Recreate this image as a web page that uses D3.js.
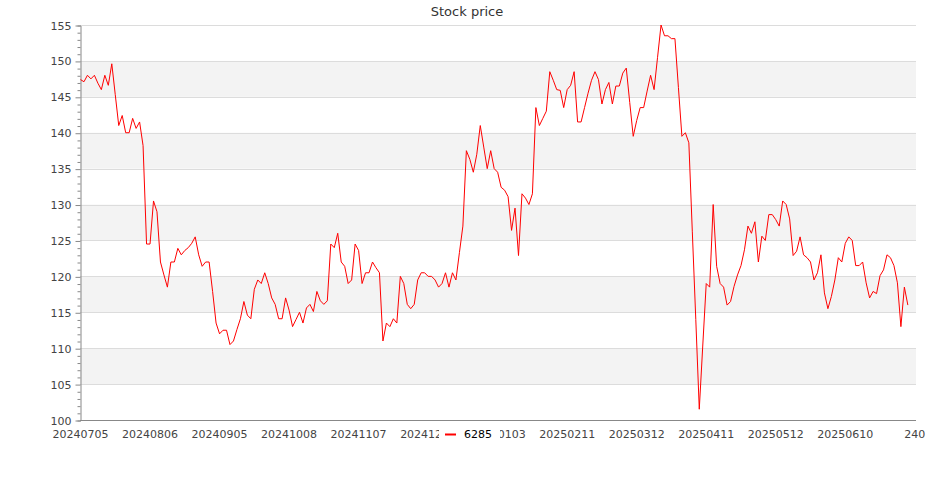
<!DOCTYPE html>
<html>
<head>
<meta charset="utf-8">
<script src="https://cdn.jsdelivr.net/npm/d3@7"></script>
<style>
  body { margin: 0; background: #fff; }
  text { font-family: "DejaVu Sans", sans-serif; }
</style>
</head>
<body>
<script>
// metrics
const width = 935, height = 500;
const plotLeft = 80, plotRight = 916, plotTop = 25, plotBottom = 420;

// data
const seriesName = '6285';
const prices = [
  147.4, 147.1, 148.0, 147.5, 148.0, 146.9, 146.0, 148.0, 146.6, 149.6,
  145.3, 141.0, 142.4, 140.0, 140.0, 142.0, 140.6, 141.5, 138.2, 124.5,
  124.5, 130.5, 129.0, 122.0, 120.2, 118.5, 122.0, 122.0, 123.9, 123.0,
  123.6, 124.0, 124.6, 125.5, 123.0, 121.4, 122.0, 122.0, 117.9, 113.5,
  112.0, 112.5, 112.5, 110.5, 111.0, 112.6, 114.1, 116.5, 114.6, 114.1,
  118.2, 119.5, 119.0, 120.5, 119.0, 117.0, 116.1, 114.1, 114.1, 117.0,
  115.3, 113.0, 114.0, 115.0, 113.5, 115.6, 116.1, 115.1, 117.9, 116.6,
  116.1, 116.6, 124.5, 124.0, 126.0, 122.0, 121.4, 119.0, 119.5, 124.5,
  123.6, 119.0, 120.5, 120.5, 122.0, 121.2, 120.5, 111.0, 113.5, 113.0,
  114.1, 113.5, 120.0, 119.0, 116.1, 115.5, 116.1, 119.5, 120.5, 120.5,
  120.0, 120.0, 119.5, 118.5, 119.0, 120.5, 118.5, 120.5, 119.5, 123.3,
  127.0, 137.5, 136.3, 134.5, 137.0, 141.0, 138.0, 135.0, 137.5, 135.0,
  134.5, 132.4, 132.0, 131.1, 126.4, 129.5, 122.9, 131.5, 130.9, 130.0,
  131.5, 143.5, 141.0, 142.0, 143.0, 148.5, 147.3, 146.0, 145.9, 143.5,
  146.0, 146.6, 148.5, 141.5, 141.5, 143.5, 145.5, 147.3, 148.5, 147.4,
  144.0, 146.0, 147.0, 144.0, 146.5, 146.5, 148.3, 149.0, 144.2, 139.5,
  141.7, 143.5, 143.5, 145.8, 148.0, 146.0, 150.5, 155.0, 153.5, 153.5,
  153.1, 153.1, 146.3, 139.5, 140.0, 138.6, 126.2, 114.0, 101.5, 110.3,
  119.0, 118.5, 130.0, 121.4, 119.0, 118.5, 116.0, 116.5, 118.6, 120.2,
  121.5, 123.7, 127.0, 126.0, 127.6, 122.0, 125.6, 125.0, 128.6, 128.6,
  127.9, 127.0, 130.5, 130.0, 128.0, 122.9, 123.5, 125.5, 123.0, 122.6,
  122.0, 119.5, 120.5, 123.0, 117.7, 115.5, 117.2, 119.5, 122.6, 122.0,
  124.6, 125.5, 125.0, 121.5, 121.5, 122.0, 119.1, 117.0, 117.9, 117.6,
  120.1, 120.9, 123.0, 122.6, 121.5, 119.1, 113.0, 118.5, 116.0
];
// x tick every 20 trading days; last tick has no date so shows its index
const tickStep = 20;
const tickLabels = ['20240705', '20240806', '20240905', '20241008', '20241107', '20241205',
  '20250103', '20250211', '20250312', '20250411', '20250512', '20250610', '240'];
const yTicks = [100, 105, 110, 115, 120, 125, 130, 135, 140, 145, 150, 155];

// elements
const svg = d3.select('body').append('svg')
    .attr('width', width)
    .attr('height', height);

// scales
const xScale = d3.scaleLinear().domain([0, 240]).range([80.5, 914.8]);
const yScale = d3.scaleLinear().domain([100, 155]).range([plotBottom, plotTop]);

// bands
const bands = yTicks.slice(0, -1).filter(v => v % 10 === 5);
svg.append('g').selectAll('rect').data(bands).join('rect')
    .attr('x', plotLeft)
    .attr('width', plotRight - plotLeft)
    .attr('y', d => yScale(d + 5))
    .attr('height', d => yScale(d) - yScale(d + 5))
    .attr('fill', '#f3f3f3');

// grid
svg.append('g').selectAll('line').data(yTicks.slice(1)).join('line')
    .attr('x1', plotLeft).attr('x2', plotRight)
    .attr('y1', d => Math.round(yScale(d)) + 0.5)
    .attr('y2', d => Math.round(yScale(d)) + 0.5)
    .attr('stroke', '#dcdcdc');

// y axis
const yAxis = svg.append('g')
    .attr('transform', `translate(${plotLeft + 0.5}, 0.5)`)
    .call(d3.axisLeft(yScale).tickValues(d3.range(100, 156, 1))
        .tickSize(3).tickFormat(d => d % 5 === 0 ? d : ''));
yAxis.select('.domain').attr('stroke', '#888');
yAxis.selectAll('.tick line').attr('stroke', '#888')
    .attr('x2', d => d % 5 === 0 ? -5 : -3);
yAxis.selectAll('.tick text')
    .attr('x', -9)
    .attr('fill', '#444')
    .style('font-size', '11px')
    .style('font-family', '"DejaVu Sans", sans-serif');

// x axis
svg.append('line')
    .attr('x1', plotLeft).attr('x2', plotRight)
    .attr('y1', plotBottom + 0.5).attr('y2', plotBottom + 0.5)
    .attr('stroke', '#888');
svg.append('g').selectAll('text').data(tickLabels).join('text')
    .attr('x', (d, i) => xScale(i * tickStep))
    .attr('y', 438)
    .attr('text-anchor', 'middle')
    .attr('fill', '#444')
    .style('font-size', '11px')
    .text(d => d);

// line
const line = d3.line()
    .x((d, i) => xScale(i))
    .y(d => yScale(d));
svg.append('path')
    .datum(prices)
    .attr('d', line)
    .attr('fill', 'none')
    .attr('stroke', '#ff0000')
    .attr('stroke-width', 1);

// title
svg.append('text')
    .attr('x', 467).attr('y', 16)
    .attr('text-anchor', 'middle')
    .attr('fill', '#333')
    .style('font-size', '13px')
    .text('Stock price');

// legend
const legend = svg.append('g').attr('transform', 'translate(439, 424)');
legend.append('rect')
    .attr('width', 61).attr('height', 20)
    .attr('fill', '#fff');
legend.append('line')
    .attr('x1', 6).attr('x2', 17)
    .attr('y1', 10.5).attr('y2', 10.5)
    .attr('stroke', '#ff0000').attr('stroke-width', 2);
legend.append('text')
    .attr('x', 25).attr('y', 13.5)
    .attr('fill', '#000')
    .style('font-size', '11px')
    .text(seriesName);
</script>
</body>
</html>
